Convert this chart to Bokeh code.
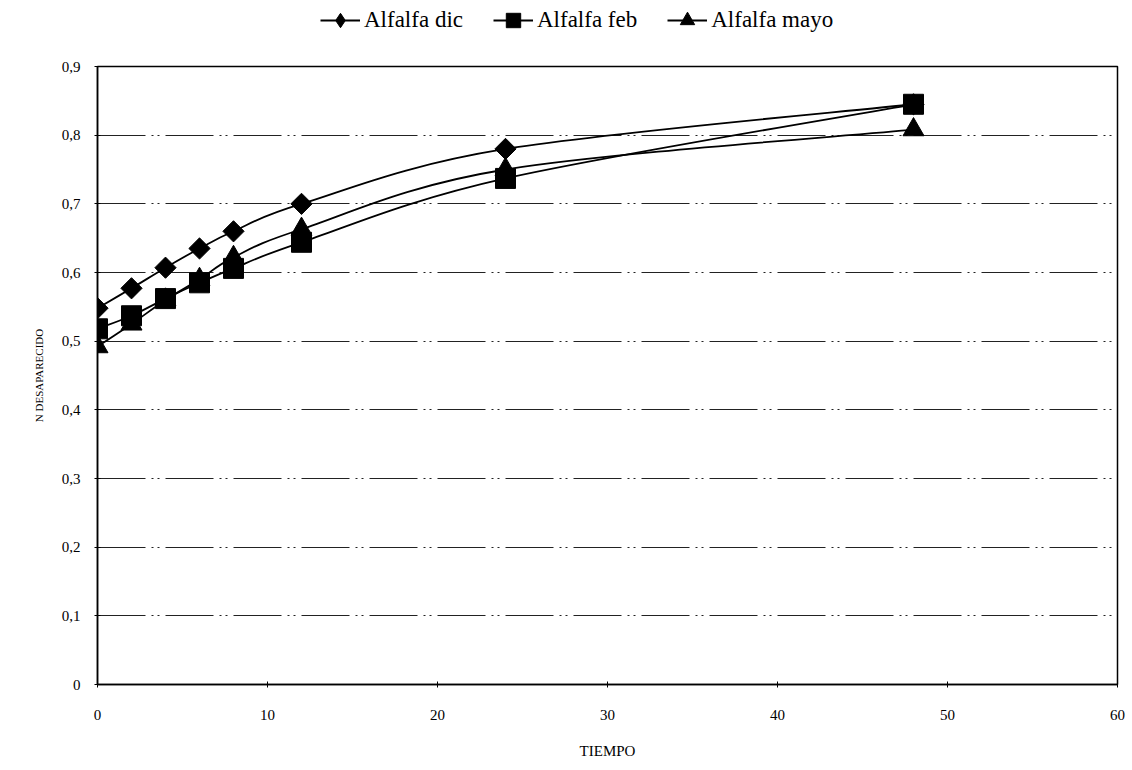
import math
from bokeh.plotting import figure
from bokeh.layouts import column
from bokeh.models import Legend, LegendItem, FixedTicker, Range1d
from bokeh.embed import file_html
from bokeh.resources import INLINE

tiempo = [0, 2, 4, 6, 8, 12, 24, 48]
alfalfa_dic = [0.548, 0.577, 0.607, 0.635, 0.660, 0.700, 0.780, 0.845]
alfalfa_feb = [0.518, 0.537, 0.562, 0.585, 0.606, 0.644, 0.737, 0.845]
alfalfa_mayo = [0.492, 0.525, 0.560, 0.590, 0.622, 0.663, 0.750, 0.808]
series_names = ["Alfalfa dic", "Alfalfa feb", "Alfalfa mayo"]
x_ticks = [0, 10, 20, 30, 40, 50, 60]
y_ticks = [0, 0.1, 0.2, 0.3, 0.4, 0.5, 0.6, 0.7, 0.8, 0.9]
y_tick_labels = ["0", "0,1", "0,2", "0,3", "0,4", "0,5", "0,6", "0,7", "0,8", "0,9"]

SERIF = "Liberation Serif"
HEADER_H = 40

# header figure carrying the legend (its data range is set so its key renderers stay out of view)
hdr = figure(width=1132, height=HEADER_H, output_backend="svg", toolbar_location=None,
             x_range=Range1d(100, 101), y_range=Range1d(100, 101), min_border=0,
             outline_line_color=None, background_fill_color="white",
             border_fill_color="white")
hdr.axis.visible = False
hdr.grid.visible = False

p = figure(width=1132, height=770 - HEADER_H, output_backend="svg", toolbar_location=None,
           x_range=Range1d(0, 60), y_range=Range1d(0, 0.9),
           min_border_left=97, min_border_right=15, min_border_top=66 - HEADER_H,
           min_border_bottom=86, background_fill_color="white",
           border_fill_color="white", outline_line_color="black",
           outline_line_width=1.5)

p.xgrid.visible = False
p.ygrid.ticker = FixedTicker(ticks=y_ticks[1:])
p.ygrid.grid_line_color = "#222222"
p.ygrid.grid_line_width = 1
p.ygrid.grid_line_dash = "48 6 2 4 2 6"

p.xaxis.ticker = FixedTicker(ticks=x_ticks)
p.yaxis.ticker = FixedTicker(ticks=y_ticks)
p.yaxis.major_label_overrides = {t: l for t, l in zip(y_ticks, y_tick_labels)}
for ax in (p.xaxis[0], p.yaxis[0]):
    ax.major_label_text_font = SERIF
    ax.major_label_text_font_size = "15px"
    ax.major_label_text_color = "black"
    ax.axis_label_text_font = SERIF
    ax.axis_label_text_font_style = "normal"
    ax.axis_label_text_color = "black"
    ax.minor_tick_line_color = None
    ax.major_tick_in = 3
    ax.major_tick_out = 3
    ax.axis_line_color = "black"
    ax.axis_line_width = 1.5
p.xaxis.major_label_standoff = 22
p.yaxis.major_label_standoff = 14
p.xaxis.axis_label = "TIEMPO"
p.xaxis.axis_label_text_font_size = "15px"
p.xaxis.axis_label_standoff = 20
p.yaxis.axis_label = "N DESAPARECIDO"
p.yaxis.axis_label_text_font_size = "11px"
p.yaxis.axis_label_standoff = 14


def smooth(xs, ys):
    n = len(xs)
    x0, y0, x1, y1, cx0, cy0, cx1, cy1 = ([] for _ in range(8))
    for i in range(n - 1):
        xp, yp = (xs[i - 1], ys[i - 1]) if i > 0 else (xs[i], ys[i])
        xn, yn = (xs[i + 2], ys[i + 2]) if i + 2 < n else (xs[i + 1], ys[i + 1])
        x0.append(xs[i]); y0.append(ys[i])
        x1.append(xs[i + 1]); y1.append(ys[i + 1])
        cx0.append(xs[i] + (xs[i + 1] - xp) / 6.0)
        cy0.append(ys[i] + (ys[i + 1] - yp) / 6.0)
        cx1.append(xs[i + 1] - (xn - xs[i]) / 6.0)
        cy1.append(ys[i + 1] - (yn - ys[i]) / 6.0)
    return dict(x0=x0, y0=y0, x1=x1, y1=y1, cx0=cx0, cy0=cy0, cx1=cx1, cy1=cy1)


items = []
markers = ["square", "square", "triangle"]
legend_markers = ["diamond", "square", "triangle"]
sizes = [15, 20, 21]
angles = [math.pi / 4, 0, 0]
for name, vals, mk, lmk, sz, ang in zip(series_names, [alfalfa_dic, alfalfa_feb, alfalfa_mayo],
                                        markers, legend_markers, sizes, angles):
    p.bezier(line_color="black", line_width=1.8, **smooth(tiempo, vals))
    p.scatter(tiempo, vals, marker=mk, size=sz, angle=ang,
              fill_color="black", line_color="black")
    # legend key renderers in the header (same data, outside the header's visible range)
    hl = hdr.line(tiempo, vals, line_color="black", line_width=1.8)
    hs = hdr.scatter(tiempo, vals, marker=lmk, size=sz, fill_color="black", line_color="black")
    items.append(LegendItem(label=name, renderers=[hl, hs]))

legend = Legend(items=items, orientation="horizontal", location=(223, 2),
                label_text_font=SERIF, label_text_font_size="23px",
                label_text_color="black",
                glyph_width=40, glyph_height=36, spacing=30, label_standoff=4,
                border_line_color=None, background_fill_alpha=0, padding=0,
                margin=0, label_height=22)
hdr.add_layout(legend)

layout = column(hdr, p, spacing=0)
open("out.html", "w").write(file_html(layout, INLINE))
